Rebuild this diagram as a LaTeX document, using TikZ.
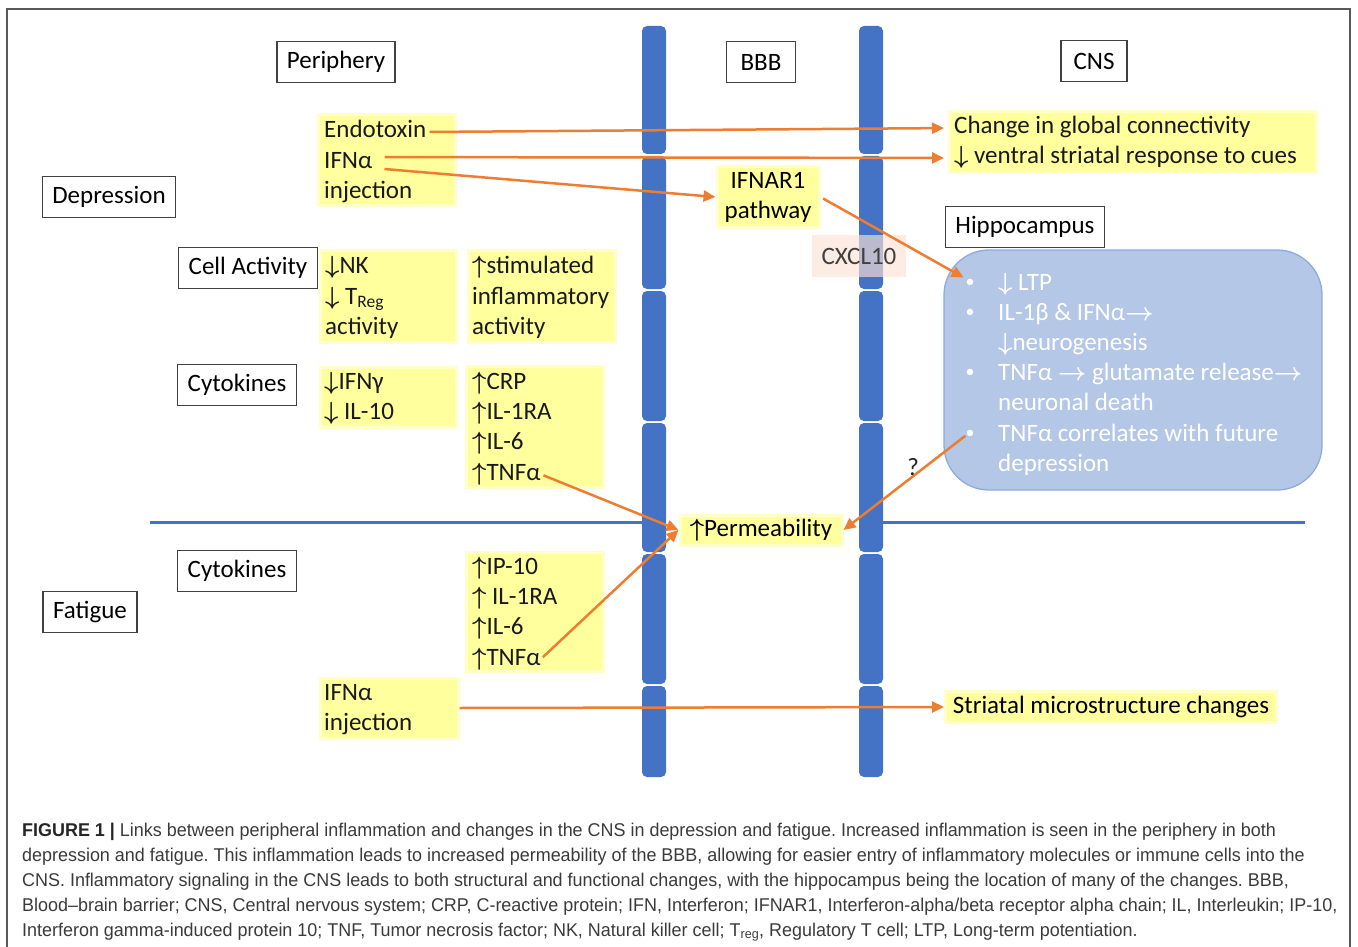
\documentclass[tikz,border=0pt]{standalone}
\usepackage{fontspec}
\setmainfont{Carlito}
\newfontfamily\capfont[FakeStretch=0.97]{Liberation Sans}
\usetikzlibrary{arrows.meta}

\definecolor{barblue}{HTML}{4472C4}
\definecolor{arrorange}{HTML}{ED7D31}
\definecolor{hlyellow}{HTML}{FFFF9E}
\definecolor{hipfill}{HTML}{B4C7E7}
\definecolor{hipline}{HTML}{8FAADC}
\definecolor{cxpink}{HTML}{FBE2D5}
\definecolor{capgray}{HTML}{3A3A3A}

\newcommand{\diagfont}{\fontsize{25}{30}\selectfont}
\newcommand{\dnar}{{\boldmath$\downarrow$}}
\newcommand{\upar}{{\boldmath$\uparrow$}}
\newcommand{\rtar}{{\boldmath$\rightarrow$}}

\tikzset{
  hdr/.style={draw=black!75, line width=1.2pt, fill=white, inner xsep=10pt, minimum height=41pt, font=\diagfont},
  hl/.style={fill=hlyellow, draw=hlyellow!55!white, line width=3pt, inner sep=0pt},
  txt/.style={inner sep=0pt, anchor=base west, text height=17pt, text depth=5pt, font=\diagfont, text=black!90},
  htxt/.style={txt, text=white},
  link/.style={draw=arrorange, line width=2.5pt, -{Triangle[length=12pt,width=11pt]}},
  captxt/.style={inner sep=0pt, anchor=base west, font=\capfont\fontsize{18.5}{25}\selectfont\frenchspacing, text=capgray},
}

\begin{document}
\begin{tikzpicture}[x=1pt, y=-1pt]
  \useasboundingbox (0,0) rectangle (1358,947);
  % frame
  \draw[black!65, line width=1.3pt] (7,947) -- (7,9) -- (1350,9) -- (1350,947);

  % divider between depression and fatigue
  \draw[barblue, line width=3pt] (150,522) -- (654,522) (871,522) -- (1305,522);

  % barrier walls
  \foreach \bx in {654,871}
    \foreach \ya/\yb in {25/155,155/290,290/422,422/553,553/685,685/778}
      \fill[barblue, rounded corners=5pt] (\bx-12,\ya+1) rectangle (\bx+12,\yb-1);
  \node[fill=cxpink, fill opacity=0.65, text opacity=1, minimum width=94pt, minimum height=42pt,
    font=\diagfont, text=black!75] (cxcl) at (859,256) {CXCL10};

  % headings
  \node[hdr] (periph) at (336,62) {Periphery};
  \node[hdr, minimum width=69pt] (bbb) at (761,62) {BBB};
  \node[hdr, minimum width=66pt] (cns) at (1094,61) {CNS};
  \node[hdr] (depr) at (109,197) {Depression};
  \node[hdr] (cellact) at (248,268) {Cell Activity};
  \node[hdr] (cytodep) at (237,385) {Cytokines};
  \node[hdr] (cytofat) at (237,571) {Cytokines};
  \node[hdr] (fatig) at (90,612) {Fatigue};
  \node[hdr] (hiphdr) at (1025,227) {Hippocampus};

  % yellow highlights
  \node[hl, minimum width=137pt, minimum height=90pt] (endobox) at (387,160) {};
  \node[hl, minimum width=136pt, minimum height=92pt] (nkbox) at (388,296) {};
  \node[hl, minimum width=147pt, minimum height=92pt] (stimbox) at (542,296) {};
  \node[hl, minimum width=136pt, minimum height=60pt] (ifngbox) at (388,397) {};
  \node[hl, minimum width=137pt, minimum height=121pt] (crpbox) at (535,427) {};
  \node[hl, minimum width=137pt, minimum height=119pt] (ipbox) at (535,612) {};
  \node[hl, minimum width=138pt, minimum height=60pt] (ifnfbox) at (389,708) {};
  \node[hl, minimum width=367pt, minimum height=61pt] (chgbox) at (1133,142) {};
  \node[hl, align=center, minimum width=102pt, minimum height=60pt, font=\diagfont] (ifnar) at (768,197) {IFNAR1\\pathway};
  \node[hl, minimum width=162pt, minimum height=30pt, font=\diagfont] (perm) at (761,530) {\upar Permeability};
  \node[hl, minimum width=331pt, minimum height=31pt, font=\diagfont] (stri) at (1111,707) {Striatal microstructure changes};

  % texts in the highlights
  \foreach \t [count=\i] in {Endotoxin, IFNα, injection}
    \node[txt] (endo\i) at (324,108+30*\i) {\t};
  \foreach \t [count=\i] in {\dnar NK, \dnar\ T\textsubscript{Reg}, activity}
    \node[txt] (nk\i) at (325,243+30.5*\i) {\t};
  \foreach \t [count=\i] in {\upar stimulated, inflammatory, activity}
    \node[txt] (stim\i) at (472,243+30.5*\i) {\t};
  \foreach \t [count=\i] in {\dnar IFNγ, \dnar\ IL-10}
    \node[txt] (ifng\i) at (324,359+30*\i) {\t};
  \foreach \t [count=\i] in {\upar CRP, \upar IL-1RA, \upar IL-6, \upar TNFα}
    \node[txt] (crp\i) at (472,358.6+30.4*\i) {\t};
  \foreach \t [count=\i] in {\upar IP-10, \upar\ IL-1RA, \upar IL-6, \upar TNFα}
    \node[txt] (ip\i) at (472,543.6+30.4*\i) {\t};
  \foreach \t [count=\i] in {IFNα, injection}
    \node[txt] (ifnf\i) at (324,670+30*\i) {\t};
  \foreach \t [count=\i] in {Change in global connectivity, \dnar\ ventral striatal response to cues}
    \node[txt] (chg\i) at (954,104+30*\i) {\t};

  % hippocampus
  \node[fill=hipfill, draw=hipline, line width=1.3pt, rounded corners=45pt,
    minimum width=378pt, minimum height=240pt] (hipbox) at (1133,370) {};
  \foreach \t [count=\i] in {\dnar\ LTP, IL-1β \& IFNα\rtar, \dnar neurogenesis,
      TNFα \rtar\ glutamate release\rtar, neuronal death, TNFα correlates with future, depression}
    \node[htxt] (hip\i) at (998,259.8+30.2*\i) {\t};
  \foreach \i in {1,2,4,6}
    \node[htxt, anchor=base, font=\fontsize{18}{18}\selectfont] (hb\i) at (970,257+30.2*\i) {\textbullet};

  % links
  \draw[link, shorten <=3pt, shorten >=10pt] (endo1.east) -- (chg1.west);
  \draw[link, shorten <=12pt, shorten >=10pt] ([yshift=5pt]endo2.east) -- (chg2.west);
  \draw[link, shorten <=12pt] ([yshift=-6pt]endo2.east) -- (ifnar.west);
  \draw[link, shorten <=3pt, shorten >=2pt] (ifnar.east) -- (hb1);
  \draw[link, shorten <=3pt] (crp4.east) -- (perm.west);
  \draw[link, shorten <=3pt] (ip4.east) -- (perm.west);
  \draw[link] (hb6) -- node[pos=0.33, left, inner sep=5pt, font=\diagfont, text=black!85] {?} (perm.east);
  \draw[link] (ifnfbox.east) -- (stri.west);

  % caption
  \node[captxt] (cap1) at (22,836) {{\bfseries\color{black!85}FIGURE 1 |} Links between peripheral inflammation and changes in the CNS in depression and fatigue. Increased inflammation is seen in the periphery in both};
  \node[captxt] (cap2) at (22,861) {depression and fatigue. This inflammation leads to increased permeability of the BBB, allowing for easier entry of inflammatory molecules or immune cells into the};
  \node[captxt] (cap3) at (22,886) {CNS. Inflammatory signaling in the CNS leads to both structural and functional changes, with the hippocampus being the location of many of the changes. BBB,};
  \node[captxt] (cap4) at (22,911) {Blood–brain barrier; CNS, Central nervous system; CRP, C-reactive protein; IFN, Interferon; IFNAR1, Interferon-alpha/beta receptor alpha chain; IL, Interleukin; IP-10,};
  \node[captxt] (cap5) at (22,936) {Interferon gamma-induced protein 10; TNF, Tumor necrosis factor; NK, Natural killer cell; T\textsubscript{reg}, Regulatory T cell; LTP, Long-term potentiation.};
\end{tikzpicture}
\end{document}
